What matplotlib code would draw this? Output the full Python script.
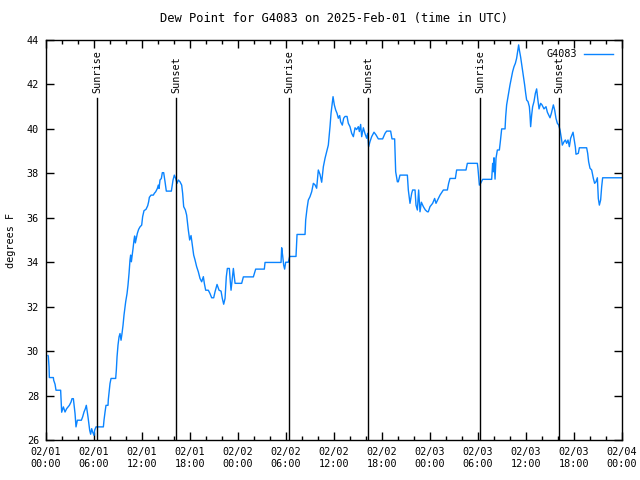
import matplotlib
matplotlib.use("Agg")
import matplotlib.pyplot as plt
from matplotlib.ticker import MultipleLocator

# heures depuis 02/01 00:00 UTC et point de rosee (F)
heures = [
    0.25, 0.29, 0.38, 0.42, 0.92, 0.96, 1.13, 1.25, 1.83, 1.9, 1.96, 2.17, 2.38, 2.58,
    2.92, 3.13, 3.25, 3.42, 3.63, 3.75, 3.92, 4.42, 4.58, 4.75, 4.92, 5.04, 5.25, 5.33,
    5.46, 5.58, 5.71, 5.83, 6.0, 6.08, 6.25, 7.17, 7.25, 7.38, 7.5, 7.75, 7.79, 7.92,
    8.0, 8.13, 8.71, 8.79, 8.88, 9.0, 9.13, 9.25, 9.38, 9.5, 9.63, 9.75, 9.96, 10.13,
    10.25, 10.38, 10.5, 10.58, 10.67, 10.75, 10.88, 11.0, 11.08, 11.17, 11.29, 11.42,
    11.58, 11.75, 11.96, 12.08, 12.25, 12.5, 12.71, 12.83, 12.92, 13.13, 13.42, 13.54,
    13.71, 13.92, 14.04, 14.13, 14.25, 14.42, 14.54, 14.71, 14.88, 15.04, 15.67, 15.75,
    15.88, 16.04, 16.21, 16.38, 16.54, 16.75, 16.96, 17.08, 17.21, 17.42, 17.58, 17.79,
    17.96, 18.13, 18.29, 18.46, 18.63, 18.83, 19.04, 19.25, 19.46, 19.67, 19.79, 19.96,
    20.29, 20.5, 20.71, 20.96, 21.13, 21.38, 21.63, 21.88, 22.04, 22.21, 22.38, 22.54,
    22.67, 22.92, 23.04, 23.13, 23.29, 23.42, 23.63, 24.46, 24.67, 25.92, 26.21, 27.29,
    27.38, 29.38, 29.46, 29.58, 29.71, 29.83, 29.96, 30.29, 30.46, 31.25, 31.38, 32.38,
    32.46, 32.63, 32.79, 33.0, 33.21, 33.42, 33.63, 33.83, 34.04, 34.25, 34.46, 34.67,
    34.88, 35.08, 35.29, 35.5, 35.63, 35.75, 35.88, 36.04, 36.21, 36.38, 36.54, 36.71,
    36.83, 37.04, 37.21, 37.38, 37.63, 37.79, 38.0, 38.21, 38.42, 38.63, 38.83, 39.04,
    39.17, 39.33, 39.46, 39.67, 39.88, 40.08, 40.21, 40.33, 40.5, 40.71, 41.0, 41.25,
    41.54, 42.08, 42.38, 42.58, 43.08, 43.25, 43.58, 43.71, 43.92, 44.04, 44.25, 45.17,
    45.29, 45.42, 45.5, 45.71, 45.83, 46.13, 46.25, 46.42, 46.58, 46.75, 46.92, 47.08,
    47.17, 47.42, 47.67, 47.79, 48.0, 48.33, 48.58, 48.75, 49.04, 49.25, 49.67, 50.17,
    50.33, 50.5, 51.17, 51.33, 52.5, 52.67, 53.92, 54.0, 54.17, 54.33, 54.58, 55.71,
    55.83, 55.92, 56.0, 56.13, 56.25, 56.42, 56.67, 56.79, 56.96, 57.38, 57.46, 57.58,
    57.79, 58.0, 58.17, 58.33, 58.5, 58.67, 58.83, 58.96, 59.08, 59.17, 59.33, 59.5,
    59.67, 59.83, 59.96, 60.08, 60.25, 60.42, 60.5, 60.58, 60.71, 60.83, 61.0, 61.17,
    61.33, 61.46, 61.63, 61.83, 62.0, 62.25, 62.5, 62.67, 62.83, 63.0, 63.17, 63.42,
    63.58, 63.75, 63.92, 64.08, 64.25, 64.42, 64.54, 64.75, 64.92, 65.08, 65.25, 65.42,
    65.58, 65.75, 65.88, 66.0, 66.17, 66.25, 66.54, 66.67, 67.58, 67.71, 67.83, 68.0,
    68.21, 68.42, 68.58, 68.75, 68.92, 69.04, 69.17, 69.33, 69.46, 69.58, 72.0,
]
rosee = [
    29.8, 29.77, 29.29, 28.81, 28.81, 28.69, 28.51, 28.24, 28.24, 27.73, 27.25, 27.49, 27.26, 27.41,
    27.56, 27.71, 27.86, 27.86, 27.19, 26.59, 26.89, 26.89, 27.04, 27.26, 27.41, 27.56, 27.04, 26.8,
    26.44, 26.26, 26.51, 26.36, 26.21, 26.44, 26.59, 26.59, 26.89, 27.26, 27.56, 27.56, 27.82, 28.24,
    28.54, 28.77, 28.77, 29.14, 29.74, 30.27, 30.64, 30.79, 30.49, 30.79, 31.17, 31.62, 32.22, 32.59,
    32.97, 33.5, 34.1, 34.32, 34.02, 34.24, 34.62, 35.0, 35.18, 34.87, 35.07, 35.3,
    35.48, 35.59, 35.67, 36.05, 36.32, 36.38, 36.54, 36.72, 36.92, 37.02, 37.02, 37.1,
    37.17, 37.32, 37.47, 37.32, 37.7, 37.77, 38.03, 38.03, 37.62, 37.2, 37.2, 37.4,
    37.7, 37.92, 37.77, 37.55, 37.7, 37.62, 37.47, 37.1, 36.5, 36.35, 36.12, 35.45,
    35.0, 35.2, 34.77, 34.32, 34.1, 33.8, 33.57, 33.27, 33.12, 33.35, 33.05, 32.74,
    32.74, 32.59, 32.4, 32.4, 32.67, 33.0, 32.74, 32.7, 32.37, 32.11, 32.37, 33.35,
    33.72, 33.72, 33.12, 32.74, 33.27, 33.72, 33.05, 33.05, 33.34, 33.34, 33.69, 33.69,
    33.99, 33.99, 34.65, 34.3, 33.87, 33.69, 34.0, 34.0, 34.26, 34.26, 35.25, 35.25,
    35.9, 36.42, 36.8, 36.95, 37.17, 37.55, 37.48, 37.33, 38.15, 37.95, 37.6, 38.3,
    38.68, 38.97, 39.27, 40.1, 40.7, 41.08, 41.45, 41.08, 40.85, 40.7, 40.48, 40.6,
    40.32, 40.17, 40.48, 40.56, 40.56, 40.25, 40.1, 39.8, 39.65, 40.05, 39.97, 40.1,
    39.88, 40.2, 39.65, 40.05, 39.78, 39.58, 39.8, 39.2, 39.43, 39.65, 39.85, 39.73,
    39.55, 39.55, 39.8, 39.9, 39.9, 39.55, 39.55, 38.07, 37.62, 37.62, 37.92, 37.92,
    37.25, 36.87, 36.65, 37.1, 37.25, 37.25, 36.57, 36.35, 37.25, 36.27, 36.7, 36.57,
    36.5, 36.35, 36.27, 36.27, 36.5, 36.65, 36.87, 36.65, 36.87, 37.02, 37.25, 37.25,
    37.55, 37.77, 37.77, 38.15, 38.15, 38.45, 38.45, 38.2, 37.47, 37.55, 37.73, 37.73,
    38.45, 38.07, 38.7, 37.74, 38.68, 39.05, 39.05, 39.42, 40.0, 40.0, 40.55, 41.08,
    41.53, 41.98, 42.28, 42.58, 42.8, 42.95, 43.18, 43.48, 43.78, 43.55, 43.23, 42.8,
    42.35, 41.98, 41.6, 41.3, 41.23, 41.0, 40.63, 40.1, 40.63, 41.0, 41.23, 41.6,
    41.8, 41.38, 40.9, 41.15, 41.08, 40.9, 41.0, 40.75, 40.63, 40.5, 40.7, 41.08,
    40.85, 40.47, 40.25, 40.18, 39.95, 39.58, 39.27, 39.42, 39.5, 39.35, 39.5, 39.2,
    39.58, 39.73, 39.85, 39.58, 39.18, 38.86, 38.9, 39.15, 39.15, 38.9, 38.52, 38.23,
    38.15, 37.77, 37.55, 37.62, 37.8, 36.87, 36.57, 36.8, 37.4, 37.8, 37.8,
]

lever = [6.41, 30.41, 54.29]
coucher = [16.29, 40.29, 64.16]

graduations = list(range(0, 73, 6))
etiquettes = ["02/01\n00:00", "02/01\n06:00", "02/01\n12:00", "02/01\n18:00",
              "02/02\n00:00", "02/02\n06:00", "02/02\n12:00", "02/02\n18:00",
              "02/03\n00:00", "02/03\n06:00", "02/03\n12:00", "02/03\n18:00",
              "02/04\n00:00"]

plt.rcParams['font.family'] = 'DejaVu Sans Mono'
plt.rcParams['font.size'] = 7.3

fig = plt.figure(figsize=(6.4, 4.8), dpi=100)
ax = fig.add_axes([46 / 640, 1 - 440 / 480, 576 / 640, 400 / 480])

ax.plot(heures, rosee, color='#0a84ff', linewidth=1, label="G4083")

# lignes lever / coucher du soleil
for h in lever + coucher:
    ax.plot([h, h], [26, 41.4], color='black', linewidth=1)
for h in lever:
    ax.text(h, 41.62, "Sunrise", rotation=90, ha='center', va='bottom')
for h in coucher:
    ax.text(h, 41.62, "Sunset", rotation=90, ha='center', va='bottom')

ax.set_xlim(0, 72)
ax.set_ylim(26, 44)
ax.set_xticks(graduations)
ax.set_xticklabels(etiquettes)
ax.xaxis.set_minor_locator(MultipleLocator(2))
ax.yaxis.set_major_locator(MultipleLocator(2))
ax.tick_params(which='both', direction='in', top=True, right=True, width=1)
ax.tick_params(which='major', length=6, pad=5)
ax.tick_params(which='minor', length=3)
for s in ax.spines.values():
    s.set_linewidth(1)

ax.set_title("Dew Point for G4083 on 2025-Feb-01 (time in UTC)", pad=13)
ax.set_ylabel("degrees F", labelpad=8)
ax.legend(loc='upper right', frameon=False, handlelength=2.8,
          borderaxespad=0.5, borderpad=0.4, handletextpad=0.7,
          markerfirst=False)

fig.savefig("out.png", dpi=100)
